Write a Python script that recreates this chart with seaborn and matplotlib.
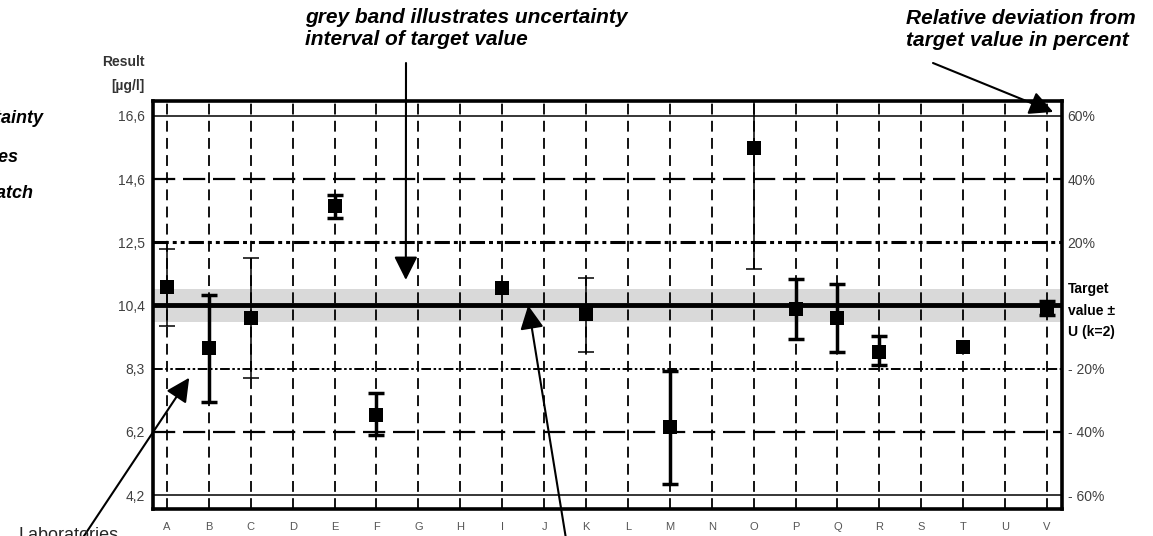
import numpy as np
import pandas as pd
import matplotlib
matplotlib.use("Agg")
import matplotlib.pyplot as plt
import seaborn as sns

# Participating laboratories and their reported results [µg/l]
labs = list("ABCDEFGHIJKLMNOPQRSTUV")
nan = np.nan
results = [11.00, 9.00, 9.98, nan, 13.66, 6.80, nan, nan, 10.99, nan, 10.11, nan,
           6.39, nan, 15.58, 10.29, 9.98, 8.86, nan, 9.03, nan, 10.32]
# Lower / upper limits of the stated measurement uncertainty
lower = [9.74, 7.22, 8.01, nan, 13.27, 6.12, nan, nan, nan, nan, 8.86, nan,
         4.53, nan, 11.60, 9.30, 8.86, 8.45, nan, nan, nan, 10.10]
upper = [12.27, 10.76, 11.97, nan, 14.05, 7.51, nan, nan, nan, nan, 11.29, nan,
         8.25, nan, 19.60, 11.28, 11.11, 9.39, nan, nan, nan, 10.55]

target_value = 10.4
target_uncertainty = 0.53
deviation_pct = [-60, -40, -20, 0, 20, 40, 60]
result_tick_labels = ["4,2", "6,2", "8,3", "10,4", "12,5", "14,6", "16,6"]
deviation_tick_labels = ["- 60%", "- 40%", "- 20%", "Target\nvalue ±\nU (k=2)",
                         "20%", "40%", "60%"]

sns.set_style("white")
plt.rcParams["font.family"] = ["Liberation Sans", "DejaVu Sans"]

W, H = 1153, 536


def fpx(x, y):
    """Pixel position (from top-left) to figure fraction."""
    return (x / W, 1 - y / H)


fig = plt.figure(figsize=(W / 100, H / 100), dpi=100)
ax = fig.add_axes([153 / W, 1 - 509 / H, (1062 - 153) / W, (509 - 101) / H])

df = pd.DataFrame({"lab": labs, "pos": np.arange(len(labs)),
                   "result": results, "lower": lower, "upper": upper})

# uncertainty band of the target value
ax.axhspan(target_value - target_uncertainty, target_value + target_uncertainty,
           color="#d9d9d9", lw=0, zorder=0.2)

# deviation reference lines
levels = target_value * (1 + np.array(deviation_pct) / 100.0)
dashdotdot = (0, (5, 1.3, 1.3, 1.3, 1.3, 1.3))
line_styles = {
    -60: dict(ls="-", lw=1.1),
    -40: dict(ls=(0, (10, 3.5)), lw=1.6),
    -20: dict(ls=dashdotdot, lw=1.4),
    0: dict(ls="-", lw=3.5),
    20: dict(ls=dashdotdot, lw=2.2),
    40: dict(ls=(0, (10, 3.5)), lw=1.6),
    60: dict(ls="-", lw=1.1),
}
for pct, lvl in zip(deviation_pct, levels):
    ax.axhline(lvl, color="black", zorder=2, **line_styles[pct])

# uncertainty bars of the laboratories
heavy = {"B", "E", "F", "M", "P", "Q", "R", "V"}
bars = df.dropna(subset=["lower"])
for _, r in bars.iterrows():
    w = 2.5 if r.lab in heavy else 1.1
    ax.errorbar(r.pos, r.result,
                yerr=[[r.result - r.lower], [r.upper - r.result]],
                fmt="none", ecolor="black", elinewidth=w,
                capsize=5.5, capthick=w, zorder=3)

sns.scatterplot(data=df.dropna(subset=["result"]), x="pos", y="result",
                marker="s", s=115, color="black", linewidth=0,
                ax=ax, zorder=4, legend=False)

ax.set_xlim(-0.334, 21.36)
ax.set_ylim(3.70, 17.13)
ax.set_xlabel("")
ax.set_ylabel("")

ax.set_xticks(df["pos"])
ax.set_xticklabels(labs, fontsize=8, color="#555555")
ax.set_yticks(levels)
ax.set_yticklabels(result_tick_labels, fontsize=10, color="#404040")
ax.tick_params(axis="both", length=0)
ax.tick_params(axis="x", pad=9)
ax.tick_params(axis="y", pad=6)
ax.set_axisbelow(True)
ax.grid(axis="x", color="black", linestyle=(0, (6, 3.5)), linewidth=1.3)
ax.grid(axis="y", visible=False)
for s in ax.spines.values():
    s.set_visible(True)
    s.set_linewidth(2.6)
    s.set_color("black")

ax2 = ax.twinx()
ax2.set_ylim(ax.get_ylim())
ax2.set_yticks(levels)
ax2.set_yticklabels(deviation_tick_labels, fontsize=10, color="#404040")
ax2.tick_params(axis="y", length=0, pad=4)
target_label = ax2.get_yticklabels()[3]
target_label.set_fontweight("bold")
target_label.set_color("black")
target_label.set_linespacing(1.65)
ax2.grid(False)
for s in ax2.spines.values():
    s.set_visible(False)

# axis title
fig.text(*fpx(145, 62), "Result", ha="right", va="center",
         fontsize=10, fontweight="bold", color="#333333")
fig.text(*fpx(145, 86), "[µg/l]", ha="right", va="center",
         fontsize=10, fontweight="bold", color="#333333")

note = dict(fontsize=15, fontweight="bold", fontstyle="italic", color="black")
fig.text(*fpx(305, 8), "grey band illustrates uncertainty\ninterval of target value",
         ha="left", va="top", **note)
fig.text(*fpx(906, 9), "Relative deviation from\ntarget value in percent",
         ha="left", va="top", **note)

side = dict(fontsize=13, fontweight="bold", fontstyle="italic", color="black")
fig.text(*fpx(43, 123), "Error bars show lab uncertainty", ha="right", va="baseline", **side)
fig.text(*fpx(18, 162), "on the individual values", ha="right", va="baseline", **side)
fig.text(*fpx(33, 198), "for each batch", ha="right", va="baseline", **side)
fig.text(*fpx(18, 540), "Laboratories", ha="left", va="baseline", fontsize=13)

arrow = dict(arrowstyle="-|>,head_length=0.4,head_width=0.2", mutation_scale=36,
             lw=1.5, color="black", shrinkA=0, shrinkB=0)
ax.annotate("", xy=(5.70, 11.24), xycoords="data", xytext=fpx(406, 63),
            textcoords="figure fraction", arrowprops=arrow, annotation_clip=False)
ax.annotate("", xy=(21.15, 16.77), xycoords="data", xytext=fpx(933, 63),
            textcoords="figure fraction", arrowprops=arrow, annotation_clip=False)
ax.annotate("", xy=(0.53, 8.02), xycoords="data", xytext=fpx(78, 545),
            textcoords="figure fraction", arrowprops=arrow, annotation_clip=False)
ax.annotate("", xy=(8.62, target_value), xycoords="data", xytext=fpx(567, 545),
            textcoords="figure fraction", arrowprops=arrow, annotation_clip=False)

fig.savefig("out.png", dpi=100)
